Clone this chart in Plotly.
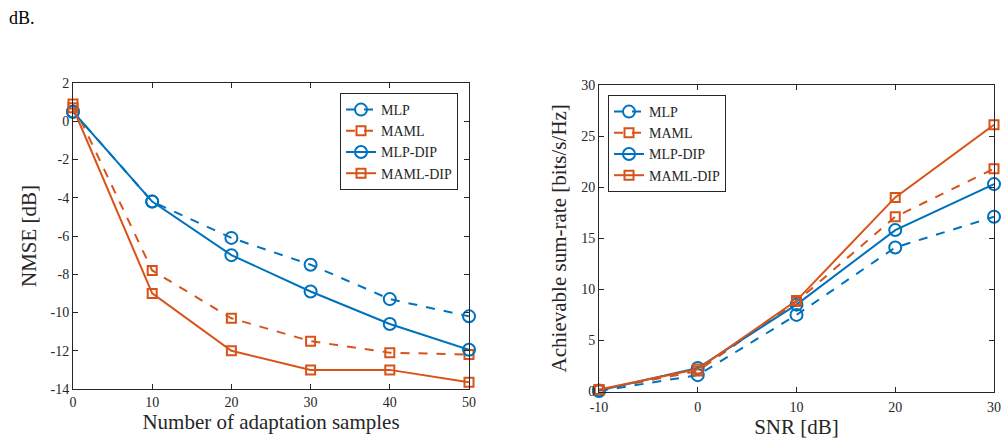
import plotly.graph_objects as go

BLUE = "#0072BD"
ORANGE = "#D95319"
FONT = "Liberation Serif"

# Left panel: NMSE vs number of adaptation samples
samples = [0, 10, 20, 30, 40, 50]
nmse_mlp = [0.5, -4.2, -6.1, -7.5, -9.3, -10.2]
nmse_maml = [0.9, -7.8, -10.3, -11.5, -12.1, -12.2]
nmse_mlp_dip = [0.5, -4.2, -7.0, -8.9, -10.6, -11.95]
nmse_maml_dip = [0.7, -9.0, -12.0, -13.0, -13.0, -13.65]
nmse_ticks = [-14, -12, -10, -8, -6, -4, -2, 0, 2]

# Right panel: sum-rate vs SNR
snr = [-10, 0, 10, 20, 30]
rate_mlp = [0.05, 1.6, 7.5, 14.1, 17.1]
rate_maml = [0.15, 2.0, 8.8, 17.1, 21.8]
rate_mlp_dip = [0.1, 2.3, 8.5, 15.8, 20.3]
rate_maml_dip = [0.2, 2.2, 8.9, 19.0, 26.1]
rate_ticks = [0, 5, 10, 15, 20, 25, 30]

names = ["MLP", "MAML", "MLP-DIP", "MAML-DIP"]
styles = [
    dict(color=BLUE, dash="dash", symbol="circle-open", size=12),
    dict(color=ORANGE, dash="dash", symbol="square-open", size=9),
    dict(color=BLUE, dash="solid", symbol="circle-open", size=12),
    dict(color=ORANGE, dash="solid", symbol="square-open", size=9),
]

fig = go.Figure()

left_series = [nmse_mlp, nmse_maml, nmse_mlp_dip, nmse_maml_dip]
right_series = [rate_mlp, rate_maml, rate_mlp_dip, rate_maml_dip]

for name, ys, st in zip(names, left_series, styles):
    fig.add_trace(go.Scatter(
        x=samples, y=ys, name=name, mode="lines+markers",
        line=dict(color=st["color"], dash=st["dash"], width=2),
        marker=dict(symbol=st["symbol"], size=st["size"], color=st["color"],
                    line=dict(width=2, color=st["color"])),
        xaxis="x", yaxis="y", legend="legend", cliponaxis=False,
    ))

for name, ys, st in zip(names, right_series, styles):
    fig.add_trace(go.Scatter(
        x=snr, y=ys, name=name, mode="lines+markers",
        line=dict(color=st["color"], dash=st["dash"], width=2),
        marker=dict(symbol=st["symbol"], size=st["size"], color=st["color"],
                    line=dict(width=2, color=st["color"])),
        xaxis="x2", yaxis="y2", legend="legend2", cliponaxis=False,
    ))

axis_common = dict(
    showline=True, linecolor="#262626", linewidth=1, mirror="ticks",
    ticks="inside", ticklen=5, tickcolor="#262626", tickwidth=1,
    showgrid=False, zeroline=False, automargin=False,
    tickfont=dict(family=FONT, size=14, color="#262626"),
    title_font=dict(family=FONT, size=21, color="#262626"),
)

def labels(vals):
    return [str(v) for v in vals]

fig.update_layout(
    width=1008, height=444,
    margin=dict(l=0, r=0, t=0, b=0),
    paper_bgcolor="white", plot_bgcolor="white",
    font=dict(family=FONT, color="#262626"),
    xaxis=dict(domain=[73/1008, 469/1008], range=[0, 50],
               tickvals=samples, ticktext=labels(samples),
               title=dict(text="Number of adaptation samples", standoff=4),
               anchor="y", **axis_common),
    yaxis=dict(domain=[1-389/444, 1-83/444], range=[-14, 2],
               tickvals=nmse_ticks, ticktext=labels(nmse_ticks),
               title=dict(text="NMSE [dB]", standoff=8),
               anchor="x", **axis_common),
    xaxis2=dict(domain=[599/1008, 994/1008], range=[-10, 30],
                tickvals=snr, ticktext=labels(snr), ticklabelstandoff=3,
                title=dict(text="SNR [dB]", standoff=2),
                anchor="y2", **axis_common),
    yaxis2=dict(domain=[1-391.5/444, 1-85/444], range=[0, 30],
                tickvals=rate_ticks, ticktext=labels(rate_ticks),
                title=dict(text="Achievable sum-rate [bits/s/Hz]", standoff=8),
                anchor="x2", **axis_common),
    legend=dict(x=458/1008, xanchor="right", y=1-93/444, yanchor="top",
                bgcolor="white", bordercolor="#262626", borderwidth=1,
                font=dict(family=FONT, size=14, color="#262626"),
                tracegroupgap=0),
    legend2=dict(x=608/1008, xanchor="left", y=1-95/444, yanchor="top",
                 bgcolor="white", bordercolor="#262626", borderwidth=1,
                 font=dict(family=FONT, size=14, color="#262626"),
                 tracegroupgap=0),
    showlegend=True,
    annotations=[dict(text="dB.", x=7/1008, y=1-18/444, xref="paper", yref="paper",
                      xanchor="left", yanchor="middle", showarrow=False,
                      font=dict(family=FONT, size=18, color="black"))],
)

fig.write_html("out.html")
